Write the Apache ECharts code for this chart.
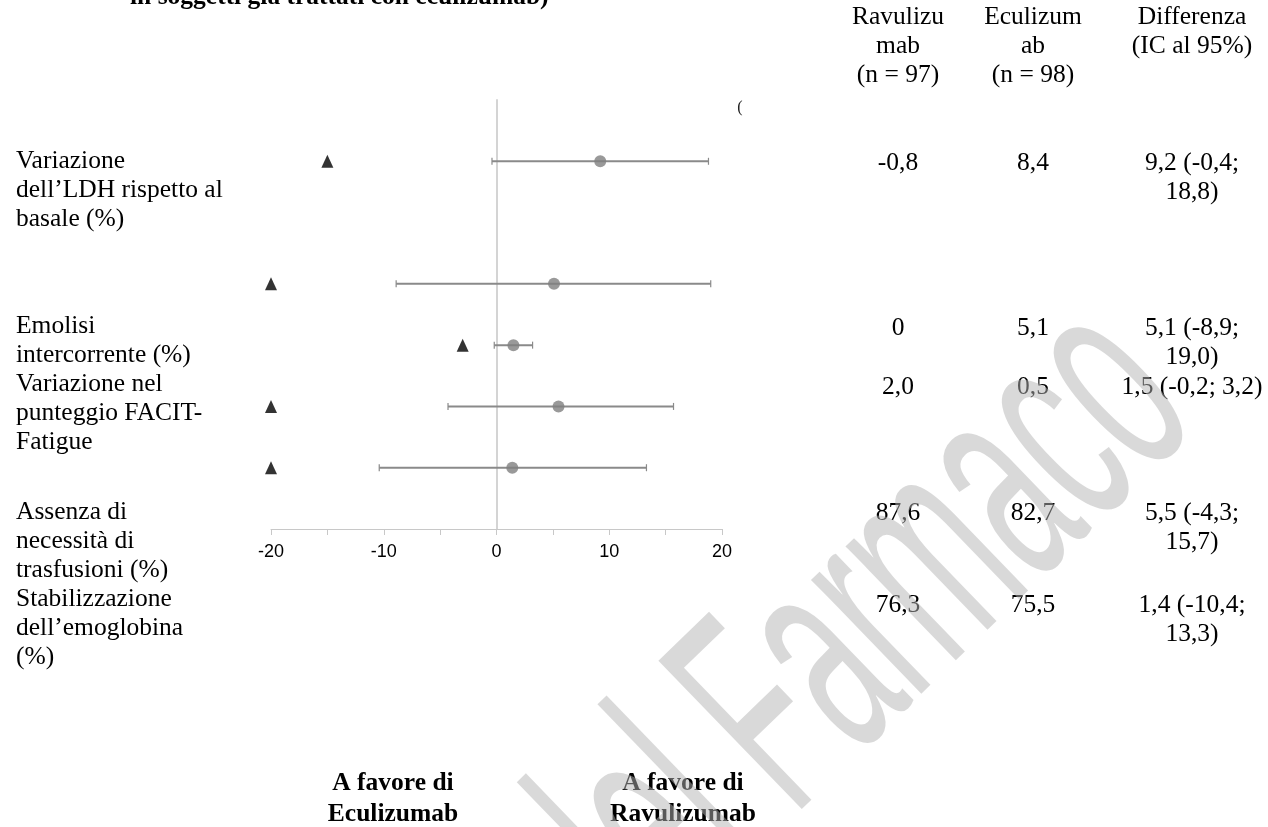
<!DOCTYPE html>
<html>
<head>
<meta charset="utf-8">
<script src="https://cdn.jsdelivr.net/npm/echarts@6/dist/echarts.min.js"></script>
<style>
  html, body { margin: 0; padding: 0; background: #fff; }
  #chart { width: 1268px; height: 827px; }
</style>
</head>
<body>
<div id="chart"></div>
<script>
// Endpoints (left column of the table)
const endpoints = [
  "Variazione\ndell\u2019LDH rispetto al\nbasale (%)",
  "Emolisi\nintercorrente (%)",
  "Variazione nel\npunteggio FACIT-\nFatigue",
  "Assenza di\nnecessit\u00e0 di\ntrasfusioni (%)",
  "Stabilizzazione\ndell\u2019emoglobina\n(%)"
];
const columnHeaders = ["Ravulizu\nmab\n(n = 97)", "Eculizum\nab\n(n = 98)", "Differenza\n(IC al 95%)"];
const ravulizumabValues = ["-0,8", "0", "2,0", "87,6", "76,3"];
const eculizumabValues = ["8,4", "5,1", "0,5", "82,7", "75,5"];
const differenceText = ["9,2 (-0,4;\n18,8)", "5,1 (-8,9;\n19,0)", "1,5 (-0,2; 3,2)", "5,5 (-4,3;\n15,7)", "1,4 (-10,4;\n13,3)"];

// Forest plot values (difference and 95% CI), one row slot per estimate
const plotRows = [6, 4, 3, 2, 1];
const diffEstimate = [9.2, 5.1, 1.5, 5.5, 1.4];
const ciLower = [-0.4, -8.9, -0.2, -4.3, -10.4];
const ciUpper = [18.8, 19.0, 3.2, 15.7, 13.3];
const triangleMarks = [-15, -20, -3, -20, -20];
const xTickLabels = ["-20", "-10", "0", "10", "20"];

const titleText = "in soggetti gi\u00e0 trattati con eculizumab)";
const favourLeft = "A favore di\nEculizumab";
const favourRight = "A favore di\nRavulizumab";
const watermarkText = "del Farmaco";

// ---- layout ----
const SERIF = '"Liberation Serif", "Times New Roman", serif';
const FS = 25.5;
const LH = 29;
const labelRowY = [161, 326, 384, 512, 599];
const valueRowY = [163, 328, 387, 513, 605];
const colX = [898, 1033, 1192];

function txt(text, x, yCenterFirst, align, bold, extra) {
  const lh = (extra && extra.lineHeight) || LH;
  const s = Object.assign({
    text: text,
    x: x,
    y: yCenterFirst - lh / 2,
    font: (bold ? 'bold ' : '') + FS + 'px ' + SERIF,
    fill: '#000',
    lineHeight: lh,
    align: align, textAlign: align,
    verticalAlign: 'top', textVerticalAlign: 'top'
  }, extra || {});
  return { type: 'text', silent: true, z: 10, style: s };
}

const graphics = [];
graphics.push(txt(titleText, 130, -3, 'left', true));
columnHeaders.forEach((h, i) => graphics.push(txt(h, colX[i], 17, 'center', false)));
endpoints.forEach((e, i) => graphics.push(txt(e, 16, labelRowY[i], 'left', false)));
ravulizumabValues.forEach((v, i) => graphics.push(txt(v, colX[0], valueRowY[i], 'center', false)));
eculizumabValues.forEach((v, i) => graphics.push(txt(v, colX[1], valueRowY[i], 'center', false)));
differenceText.forEach((v, i) => graphics.push(txt(v, colX[2], valueRowY[i], 'center', false)));
graphics.push(txt(favourLeft, 393, 783, 'center', true, { lineHeight: 31 }));
graphics.push(txt(favourRight, 683, 783, 'center', true, { lineHeight: 31 }));
graphics.push({
  type: 'text', silent: true, z: 5,
  style: { text: '(', x: 740, y: 108, font: '16px ' + SERIF, fill: '#222', align: 'center', textAlign: 'center', verticalAlign: 'middle', textVerticalAlign: 'middle' }
});
// faint diagonal watermark over the page
graphics.push({
  type: 'text', silent: true, z: 100,
  x: 673, y: 1027, rotation: 44 * Math.PI / 180, scaleX: 0.48, scaleY: 1,
  style: {
    text: watermarkText,
    x: 0, y: 0,
    font: '300px "Liberation Sans", Arial, sans-serif',
    fill: 'rgba(180,180,180,0.5)',
    align: 'left', textAlign: 'left',
    verticalAlign: 'bottom', textVerticalAlign: 'bottom'
  }
});

const chart = echarts.init(document.getElementById('chart'), null, { renderer: 'canvas' });

const option = {
  animation: false,
  backgroundColor: '#fff',
  grid: { left: 271, right: 546, top: 100, bottom: 298, containLabel: false },
  xAxis: {
    type: 'value', min: -20, max: 20, interval: 10,
    axisLine: { show: true, onZero: false, lineStyle: { color: '#c8c8c8', width: 1 } },
    axisTick: { show: true, length: 6, lineStyle: { color: '#c8c8c8' } },
    minorTick: { show: true, splitNumber: 2, length: 6, lineStyle: { color: '#c8c8c8' } },
    splitLine: { show: false },
    axisLabel: {
      margin: 14, color: '#000', fontSize: 18,
      fontFamily: '"Liberation Sans", Arial, sans-serif',
      formatter: v => xTickLabels.includes(String(v)) ? String(v) : ''
    }
  },
  yAxis: {
    type: 'value', min: 0, max: 7,
    axisLine: { show: true, onZero: true, lineStyle: { color: '#d4d4d4', width: 2 } },
    axisTick: { show: false }, axisLabel: { show: false }, splitLine: { show: false }
  },
  series: [
    {
      type: 'custom',
      name: 'IC 95%',
      data: plotRows.map((r, i) => [ciLower[i], ciUpper[i], r]),
      renderItem: function (params, api) {
        const a = api.coord([api.value(0), api.value(2)]);
        const b = api.coord([api.value(1), api.value(2)]);
        const h = 3.5;
        const stroke = '#8a8a8a';
        return {
          type: 'group',
          children: [
            { type: 'line', shape: { x1: a[0], y1: a[1], x2: b[0], y2: b[1] }, style: { stroke: stroke, lineWidth: 2 } },
            { type: 'line', shape: { x1: a[0], y1: a[1] - h, x2: a[0], y2: a[1] + h }, style: { stroke: stroke, lineWidth: 1.2 } },
            { type: 'line', shape: { x1: b[0], y1: b[1] - h, x2: b[0], y2: b[1] + h }, style: { stroke: stroke, lineWidth: 1.2 } }
          ]
        };
      },
      z: 2
    },
    {
      type: 'scatter',
      name: 'Differenza',
      data: plotRows.map((r, i) => [diffEstimate[i], r]),
      symbol: 'circle', symbolSize: 12,
      itemStyle: { color: '#808080' },
      z: 3
    },
    {
      type: 'scatter',
      name: 'marker',
      data: plotRows.map((r, i) => [triangleMarks[i], r]),
      symbol: 'triangle', symbolSize: [12, 13],
      itemStyle: { color: '#000' },
      z: 3
    }
  ],
  graphic: graphics
};
chart.setOption(option);
</script>
</body>
</html>
